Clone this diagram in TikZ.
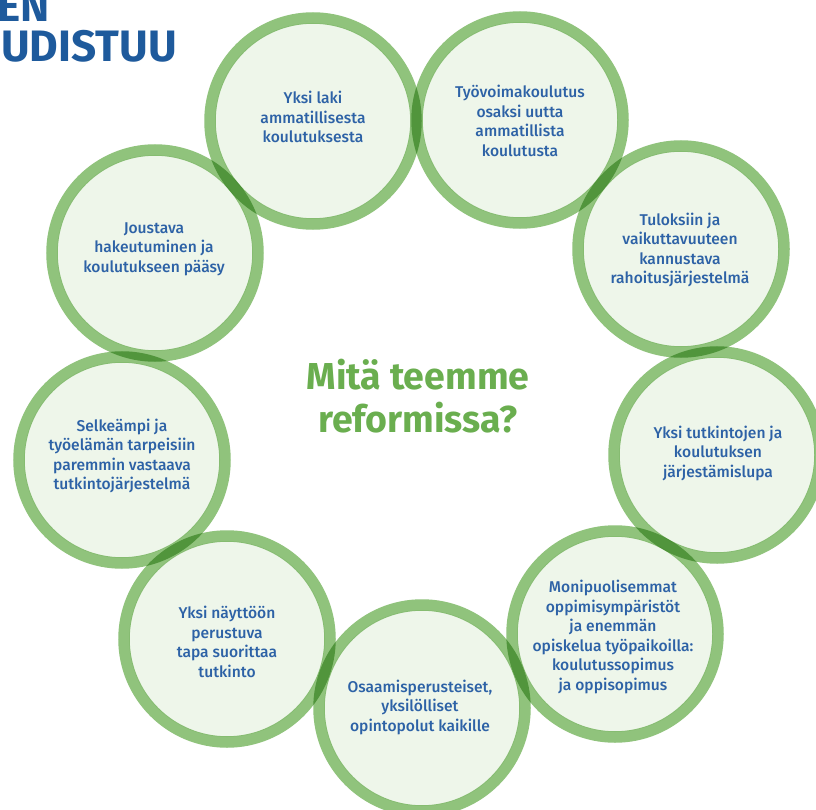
\documentclass[tikz,border=0pt]{standalone}
\usepackage{fontspec}
\setmainfont{Fira Sans}
\newfontfamily\medfont{Fira Sans Medium}
\newfontfamily\boldfont{Fira Sans Bold}
\definecolor{ringgreen}{HTML}{90C37C}
\definecolor{fillgreen}{HTML}{EEF6EA}
\definecolor{textblue}{HTML}{2D62A6}
\definecolor{headblue}{HTML}{1E5A9C}
\definecolor{titlegreen}{HTML}{6AAE4F}
\tikzset{
  bubblefill/.style={circle, minimum size=196pt, inner sep=0pt, fill=fillgreen},
  bubble/.style={circle, minimum size=206pt, inner sep=0pt,
    draw=ringgreen, line width=11.5pt, blend mode=multiply},
  bubbletext/.style={align=center, text=textblue, inner sep=0pt,
    font=\medfont\fontsize{15.6pt}{19.5pt}\selectfont},
  titletext/.style={align=center, text=titlegreen, inner sep=0pt,
    font=\boldfont\fontsize{37.5pt}{43pt}\selectfont},
  headtext/.style={text=headblue, inner sep=0pt,
    font=\boldfont\fontsize{44pt}{44pt}\selectfont}
}
\begin{document}
\begin{tikzpicture}[x=1pt,y=-1pt]
\useasboundingbox (0,0) rectangle (816,810);
\clip (0,0) rectangle (816,810);
\fill[white] (0,0) rectangle (816,810);
% header
\node[headtext, anchor=base east] (h1) at (50,22) {EN};
\node[headtext, anchor=base east] (h2) at (177,62) {UDISTUU};
% circle interiors
\foreach \n/\x/\y in {1/313/121,2/520/120,3/681/249,4/717/455,5/615/634,6/422/708,7/227/639,8/122/460,9/155/253}
  \node[bubblefill] (f\n) at (\x,\y) {};
% circle rings
\node[bubble] (c1) at (313,121) {};
\node[bubble] (c2) at (520,120) {};
\node[bubble] (c3) at (681,249) {};
\node[bubble] (c4) at (717,455) {};
\node[bubble] (c5) at (615,634) {};
\node[bubble] (c6) at (422,708) {};
\node[bubble] (c7) at (227,639) {};
\node[bubble] (c8) at (122,460) {};
\node[bubble] (c9) at (155,253) {};
% texts
\node[bubbletext] (t1) at (313,117) {Yksi laki\\ammatillisesta\\koulutuksesta};
\node[bubbletext] (t2) at (520,121) {Työvoimakoulutus\\osaksi uutta\\ammatillista\\koulutusta};
\node[bubbletext] (t3) at (680,250) {Tuloksiin ja\\vaikuttavuuteen\\kannustava\\rahoitusjärjestelmä};
\node[bubbletext] (t4) at (718,453) {Yksi tutkintojen ja\\koulutuksen\\järjestämislupa};
\node[bubbletext] (t5) at (613,637) {Monipuolisemmat\\oppimisympäristöt\\ja enemmän\\opiskelua työpaikoilla:\\koulutussopimus\\ja oppisopimus};
\node[bubbletext] (t6) at (420,707) {Osaamisperusteiset,\\yksilölliset\\opintopolut kaikille};
\node[bubbletext] (t7) at (227,642) {Yksi näyttöön\\perustuva\\tapa suorittaa\\tutkinto};
\node[bubbletext] (t8) at (122,456) {Selkeämpi ja\\työelämän tarpeisiin\\paremmin vastaava\\tutkintojärjestelmä};
\node[bubbletext] (t9) at (154,249) {Joustava\\hakeutuminen ja\\koulutukseen pääsy};
% title
\node[titletext] (title) at (418,396) {Mitä teemme\\reformissa?};
\end{tikzpicture}
\end{document}
